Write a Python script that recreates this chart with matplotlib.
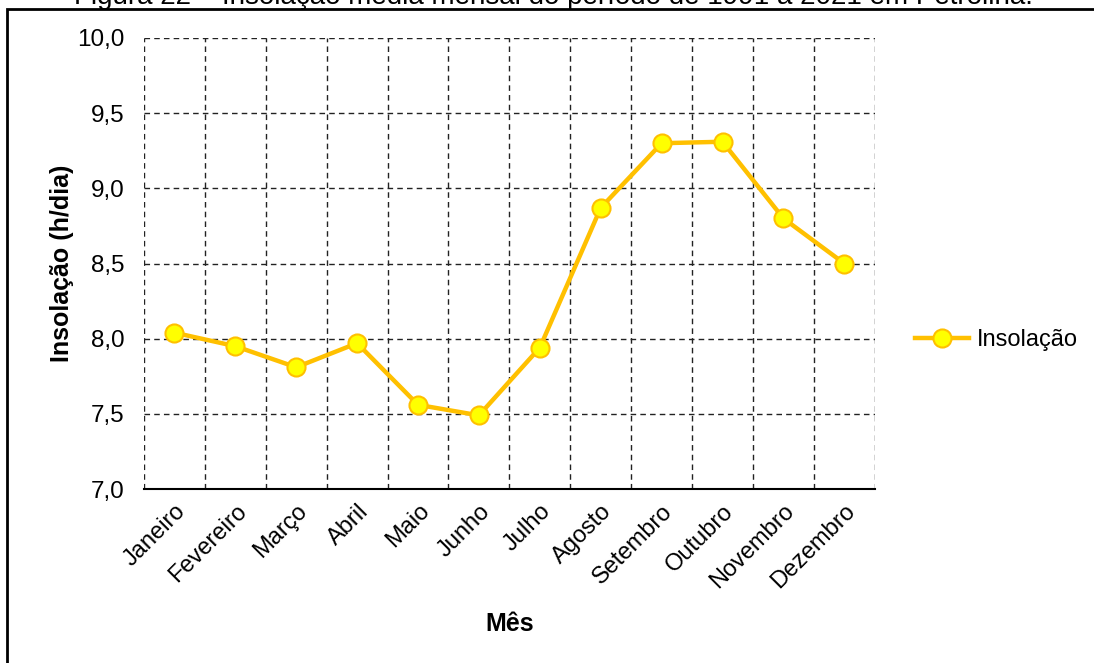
import numpy as np
import matplotlib.pyplot as plt
from matplotlib.patches import Rectangle

plt.rcParams['font.family'] = ['Liberation Sans', 'DejaVu Sans']

meses = ['Janeiro', 'Fevereiro', 'Março', 'Abril', 'Maio', 'Junho',
         'Julho', 'Agosto', 'Setembro', 'Outubro', 'Novembro', 'Dezembro']
insolacao = [8.04, 7.95, 7.81, 7.97, 7.56, 7.49, 7.94, 8.87, 9.30, 9.31, 8.80, 8.50]
yticks = [7.0, 7.5, 8.0, 8.5, 9.0, 9.5, 10.0]
titulo = 'Figura 22 – Insolação média mensal do período de 1991 a 2021 em Petrolina.'

fig = plt.figure(figsize=(10.94, 6.63), dpi=100)
ax = fig.add_axes([0.1316, 0.2624, 0.668, 0.6803])

# moldura externa (a parte de cima do título fica cortada, como no original)
fig.patches.append(Rectangle((7 / 1094, -0.1), 1.2, 0.1 + (663 - 9) / 663,
                             transform=fig.transFigure, fill=False,
                             edgecolor='black', linewidth=2))
fig.text(553 / 1094, 1 - 4 / 663, titulo, ha='center', va='baseline', fontsize=20)

x = np.arange(len(meses))
ax.plot(x, insolacao, color='#FFC000', linewidth=3.2, marker='o',
        markersize=13, markerfacecolor='#FFFF00', markeredgecolor='#FFC000',
        markeredgewidth=1.5, label='Insolação', zorder=3)

ax.set_xlim(-0.5, len(meses) - 0.5)
ax.set_ylim(7.0, 10.0)
ax.set_yticks(yticks)
ax.set_yticklabels([f'{v:.1f}'.replace('.', ',') for v in yticks], fontsize=17.5)
ax.set_xticks(x)
ax.set_xticklabels(meses, rotation=45, ha='right', rotation_mode='anchor', fontsize=17)
ax.set_xticks(np.arange(-0.5, len(meses)), minor=True)
ax.tick_params(axis='both', which='both', length=0)
ax.tick_params(axis='y', pad=14)
ax.tick_params(axis='x', pad=8)

ax.grid(True, axis='y', which='major', linestyle=(0, (4, 3)), color='#222222', linewidth=1)
ax.grid(True, axis='x', which='minor', linestyle=(0, (4, 3)), color='#222222', linewidth=1)
ax.grid(False, axis='x', which='major')
for s in ['top', 'right', 'left']:
    ax.spines[s].set_visible(False)
ax.spines['bottom'].set_linewidth(1.5)

ax.set_ylabel('Insolação (h/dia)', fontsize=18, fontweight='bold', labelpad=2)
ax.set_xlabel('Mês', fontsize=18, fontweight='bold', labelpad=14)

fig.legend(loc='center left', bbox_to_anchor=(915 / 1094, 1 - 340 / 663),
           frameon=False, fontsize=17, handlelength=2.3, handletextpad=0.3,
           borderpad=0, borderaxespad=0)

fig.savefig('out.png', dpi=100)
